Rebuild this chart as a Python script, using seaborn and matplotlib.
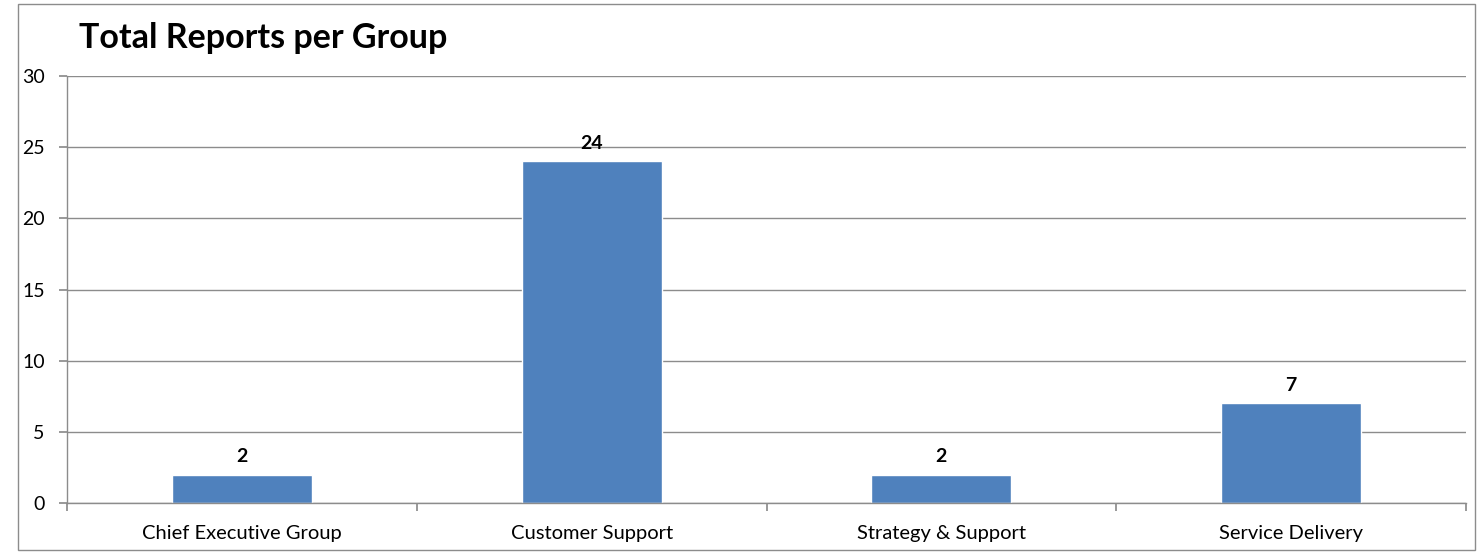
import matplotlib
matplotlib.use("Agg")
import matplotlib.pyplot as plt
import seaborn as sns
import pandas as pd
from matplotlib.patches import Rectangle

categories = ["Chief Executive Group", "Customer Support", "Strategy & Support", "Service Delivery"]
values = [2, 24, 2, 7]
yticks = [0, 5, 10, 15, 20, 25, 30]

sns.set_theme(style="white")
plt.rcParams['font.family'] = ['Lato', 'DejaVu Sans']
plt.rcParams['text.color'] = 'black'
plt.rcParams['xtick.color'] = 'black'
plt.rcParams['ytick.color'] = 'black'

W, H = 1477, 554
fig = plt.figure(figsize=(W / 100, H / 100), dpi=100)
ax = fig.add_axes([67 / W, 1 - 503 / H, (1466 - 67) / W, (503 - 76) / H])

df = pd.DataFrame({"cat": categories, "val": values})
sns.barplot(data=df, x="cat", y="val", color="#4F81BD", saturation=1, width=0.4, ax=ax)

ax.set_ylim(0, 30)
ax.set_xlim(-0.5, len(categories) - 0.5)
ax.set_yticks(yticks)
ax.set_yticklabels([str(t) for t in yticks], fontsize=14)
ax.set_xlabel("")
ax.set_ylabel("")
ax.yaxis.grid(True, color="#8C8C8C", linewidth=1)
ax.set_axisbelow(True)
for s in ["top", "right"]:
    ax.spines[s].set_visible(False)
for s in ["left", "bottom"]:
    ax.spines[s].set_color("#8C8C8C")
    ax.spines[s].set_linewidth(1)

# x ticks at category boundaries, labels at centres
ax.set_xticks([i - 0.5 for i in range(len(categories) + 1)])
ax.set_xticklabels([""] * (len(categories) + 1))
ax.set_xticks(range(len(categories)), minor=True)
ax.set_xticklabels(categories, minor=True, fontsize=14.5)
ax.tick_params(axis="x", which="major", direction="out", length=6, color="#8C8C8C", bottom=True)
ax.tick_params(axis="x", which="minor", length=0, pad=16, bottom=True, labelcolor="black")
ax.tick_params(axis="y", direction="out", length=6, color="#8C8C8C", left=True, pad=10,
               labelcolor="black")

for c in ax.containers:
    ax.bar_label(c, labels=[str(v) for v in values], padding=7, fontsize=14,
                 fontweight="bold", color="black")

fig.text(79 / W, 1 - 38 / H, "Total Reports per Group", fontsize=24.5, fontweight="bold",
         ha="left", va="center", color="black")

fig.patches.append(Rectangle((18 / W, 4 / H), (1475 - 18) / W, (550 - 4) / H,
                             transform=fig.transFigure, fill=False, edgecolor="#8C8C8C",
                             linewidth=1))

fig.savefig("out.png", dpi=100)
